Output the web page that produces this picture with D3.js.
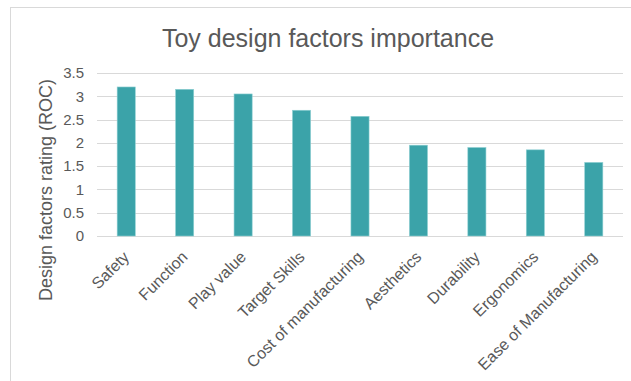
<!DOCTYPE html>
<html><head><meta charset="utf-8">
<script src="https://cdn.jsdelivr.net/npm/d3@7"></script>
<style>body{margin:0;background:#fff;}svg{display:block;font-family:"Liberation Sans",Arial,sans-serif;}</style>
</head><body>
<svg id="c" width="631" height="381"></svg>
<script>
const categories = ["Safety","Function","Play value","Target Skills","Cost of manufacturing","Aesthetics","Durability","Ergonomics","Ease of Manufacturing"];
const values = [3.2,3.15,3.05,2.7,2.57,1.95,1.9,1.85,1.58];
const yTicks = [0,0.5,1,1.5,2,2.5,3,3.5];
const yTickLabels = ["0","0.5","1","1.5","2","2.5","3","3.5"];

const svg = d3.select("#c");
svg.append("rect").attr("x",10.5).attr("y",7.5).attr("width",640).attr("height",400)
  .attr("fill","#fff").attr("stroke","#d9d9d9");

const x = d3.scaleBand().domain(categories).range([97,623]).paddingInner(0.69).paddingOuter(0.345);
const y = d3.scaleLinear().domain([0,3.5]).range([236,73]);

svg.append("text").attr("x",328).attr("y",47).attr("text-anchor","middle")
  .attr("font-size",25).attr("fill","#595959").text("Toy design factors importance");

const g = svg.append("g");
g.selectAll("line.grid").data(yTicks).join("line").attr("class","grid")
  .attr("x1",97).attr("x2",623).attr("y1",d=>Math.round(y(d))+0.5).attr("y2",d=>Math.round(y(d))+0.5)
  .attr("stroke","#d9d9d9").attr("stroke-width",1);

g.selectAll("text.yt").data(yTicks).join("text").attr("class","yt")
  .attr("x",84).attr("y",d=>y(d)).attr("dy","0.35em").attr("text-anchor","end")
  .attr("font-size",15).attr("fill","#595959").text((d,i)=>yTickLabels[i]);

g.selectAll("rect.bar").data(values).join("rect").attr("class","bar")
  .attr("x",(d,i)=>x(categories[i])).attr("width",x.bandwidth())
  .attr("y",d=>y(d)).attr("height",d=>y(0)-y(d))
  .attr("fill","#3BA3A9").attr("stroke","#8fd0d3").attr("stroke-width",0.6);

g.selectAll("text.xt").data(categories).join("text").attr("class","xt")
  .attr("transform",d=>`translate(${x(d)+x.bandwidth()/2+4},${258}) rotate(-45)`)
  .attr("text-anchor","end").attr("font-size",16).attr("fill","#595959").text(d=>d);

svg.append("text").attr("transform","translate(52,190) rotate(-90)").attr("text-anchor","middle")
  .attr("font-size",18).attr("fill","#595959").text("Design factors rating (ROC)");
</script>
</body></html>
